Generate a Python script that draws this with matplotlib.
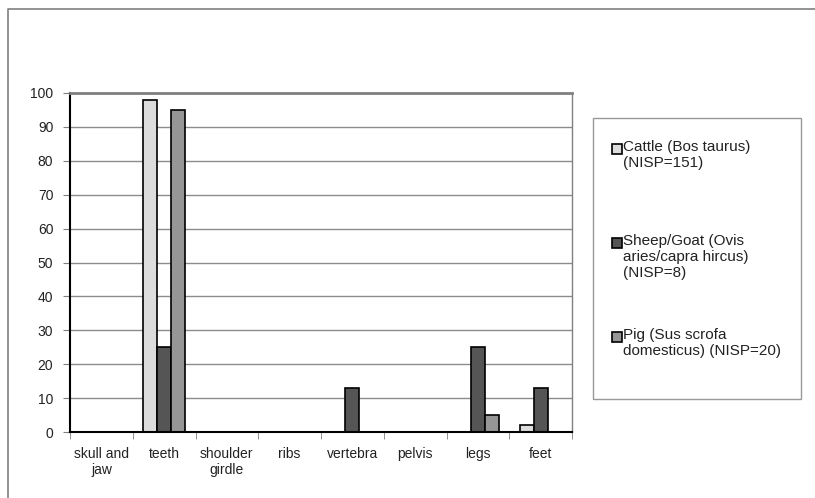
import numpy as np
import matplotlib
matplotlib.use("Agg")
import matplotlib.pyplot as plt
from matplotlib.patches import Rectangle
from matplotlib.lines import Line2D

plt.rcParams["font.family"] = ["Liberation Sans", "DejaVu Sans"]

categories = ["skull and\njaw", "teeth", "shoulder\ngirdle", "ribs", "vertebra", "pelvis", "legs", "feet"]
series_names = ["Cattle (Bos taurus)\n(NISP=151)",
                "Sheep/Goat (Ovis\naries/capra hircus)\n(NISP=8)",
                "Pig (Sus scrofa\ndomesticus) (NISP=20)"]
cattle = [0, 98, 0, 0, 0, 0, 0, 2]
sheep = [0, 25, 0, 0, 13, 0, 25, 13]
pig = [0, 95, 0, 0, 0, 0, 5, 0]
yticks = [0, 10, 20, 30, 40, 50, 60, 70, 80, 90, 100]

colors = ["#dcdcdc", "#555555", "#969696"]

W, H = 815, 498
fig = plt.figure(figsize=(W / 100, H / 100), dpi=100)


def fx(px):
    return px / W


def fy(py):
    return 1 - py / H


# outer chart frame (right/bottom cut off in the original)
fig.add_artist(Line2D([fx(8), fx(8), 1.0], [0.0, fy(9), fy(9)], color="#808080", lw=1.2,
                      transform=fig.transFigure))

ax = fig.add_axes([fx(70), fy(432), fx(572) - fx(70), fy(93) - fy(432)])

x = np.arange(len(categories))
w = 0.223
for i, vals in enumerate([cattle, sheep, pig]):
    ax.bar(x + (i - 1) * w, vals, width=w, color=colors[i], edgecolor="black", linewidth=1.2, zorder=3)

ax.set_xlim(-0.5, len(categories) - 0.5)
ax.set_ylim(0, 100)
ax.set_yticks(yticks)
ax.yaxis.grid(True, color="#8c8c8c", lw=1, zorder=0)
ax.set_xticks(x)
ax.set_xticklabels(categories, fontsize=10, color="#222222", linespacing=1.15)
ax.set_xticks(np.arange(len(categories) + 1) - 0.5, minor=True)
ax.tick_params(axis="x", which="major", length=0, pad=11)
ax.tick_params(axis="x", which="minor", length=5, color="#808080")
ax.tick_params(axis="y", length=5, color="#808080", labelsize=10, labelcolor="#222222", pad=7)

ax.spines["left"].set_color("black")
ax.spines["left"].set_linewidth(1.5)
ax.spines["bottom"].set_color("black")
ax.spines["bottom"].set_linewidth(1.5)
ax.spines["top"].set_color("#808080")
ax.spines["top"].set_linewidth(2)
ax.spines["right"].set_color("#808080")
ax.spines["right"].set_linewidth(1)
for s in ax.spines.values():
    s.set_zorder(4)

# legend box
fig.add_artist(Rectangle((fx(593), fy(399)), fx(801) - fx(593), fy(118) - fy(399),
                         transform=fig.transFigure, facecolor="white", edgecolor="#999999", lw=1))
first_line = [149, 243, 337]
for i, name in enumerate(series_names):
    yc = first_line[i]
    fig.add_artist(Rectangle((fx(612), fy(yc + 5)), fx(10), 10 / H, transform=fig.transFigure,
                             facecolor=colors[i], edgecolor="black", lw=1.2))
    fig.text(fx(623), fy(yc - 9), name, fontsize=11, va="top", ha="left",
             color="#222222", linespacing=1.2)

fig.savefig("out.png", dpi=100)
